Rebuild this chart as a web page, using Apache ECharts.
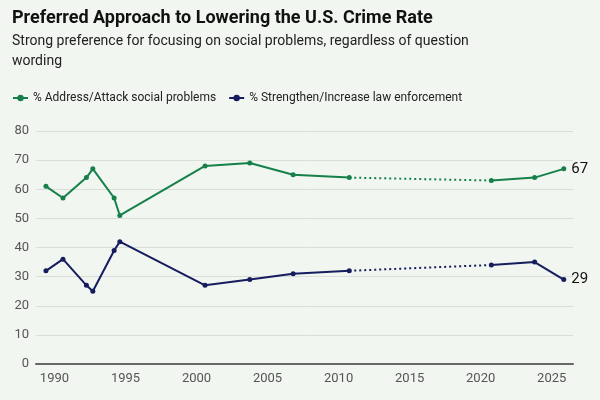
<!DOCTYPE html>
<html>
<head>
<meta charset="utf-8">
<script src="https://cdn.jsdelivr.net/npm/echarts@6/dist/echarts.min.js"></script>
<style>
html,body{margin:0;padding:0;background:#f1f6f0;}
#c{width:600px;height:400px;}
</style>
</head>
<body>
<div id="c"></div>
<script>
const surveyDates = [1989.4, 1990.6, 1992.25, 1992.7, 1994.2, 1994.6, 2000.6, 2003.75, 2006.8, 2010.75, 2020.75, 2023.8, 2025.85];
const socialProblems = [61, 57, 64, 67, 57, 51, 68, 69, 65, 64, 63, 64, 67];
const lawEnforcement = [32, 36, 27, 25, 39, 42, 27, 29, 31, 32, 34, 35, 29];
const xTickLabels = [1990, 1995, 2000, 2005, 2010, 2015, 2020, 2025];
const seriesNames = ['% Address/Attack social problems', '% Strengthen/Increase law enforcement'];
const gapStart = 9, gapEnd = 10;

const GREEN = '#16804a', NAVY = '#161d5e';

function pts(vals, from, to, labelLast) {
  const out = [];
  for (let i = from; i <= to; i++) {
    const item = { value: [surveyDates[i], vals[i]] };
    if (labelLast && i === vals.length - 1) {
      item.label = { show: true, position: 'right', distance: 5, formatter: String(vals[i]), color: '#111', fontSize: 15, fontFamily: 'Roboto' };
    }
    out.push(item);
  }
  return out;
}

function solid(name, color, vals, from, to) {
  return {
    name, type: 'line', data: pts(vals, from, to, true),
    symbol: 'circle', symbolSize: 5, showSymbol: true,
    lineStyle: { color, width: 2 }, itemStyle: { color },
    animation: false, z: 3
  };
}
function dotted(name, color, vals) {
  return {
    name, type: 'line', data: pts(vals, gapStart, gapEnd, false),
    symbol: 'none', lineStyle: { color, width: 2, type: [2, 3] },
    itemStyle: { color }, animation: false, z: 2
  };
}

const chart = echarts.init(document.getElementById('c'));
chart.setOption({
  backgroundColor: '#f1f6f0',
  textStyle: { fontFamily: 'Roboto' },
  title: {
    text: 'Preferred Approach to Lowering the U.S. Crime Rate',
    subtext: 'Strong preference for focusing on social problems, regardless of question\nwording',
    left: 7, top: 4, itemGap: 4,
    textStyle: { fontFamily: 'Roboto', fontWeight: 'bold', fontSize: 18, color: '#111' },
    subtextStyle: { fontFamily: 'Roboto', fontSize: 14, color: '#222', lineHeight: 20 }
  },
  legend: {
    left: 7, top: 87, itemWidth: 15, itemHeight: 8, itemGap: 12,
    data: seriesNames,
    textStyle: { fontSize: 12, color: '#222', fontFamily: 'Roboto' }
  },
  grid: { left: 36, right: 27, top: 131, bottom: 36, containLabel: false },
  xAxis: {
    type: 'value', min: 1988.7, max: 2026.5,
    splitLine: { show: false },
    axisTick: { show: false },
    axisLine: { lineStyle: { color: '#666', width: 2 } },
    axisLabel: { customValues: xTickLabels, color: '#555', fontSize: 13, margin: 8, formatter: v => String(v) }
  },
  yAxis: {
    type: 'value', min: 0, max: 80, interval: 10,
    axisLine: { show: false }, axisTick: { show: false },
    axisLabel: { color: '#555', fontSize: 13, margin: 7 },
    splitLine: { lineStyle: { color: '#d9ded8', width: 1 } }
  },
  series: [
    solid(seriesNames[0], GREEN, socialProblems, 0, gapStart),
    solid(seriesNames[0], GREEN, socialProblems, gapEnd, socialProblems.length - 1),
    dotted(seriesNames[0], GREEN, socialProblems),
    solid(seriesNames[1], NAVY, lawEnforcement, 0, gapStart),
    solid(seriesNames[1], NAVY, lawEnforcement, gapEnd, lawEnforcement.length - 1),
    dotted(seriesNames[1], NAVY, lawEnforcement)
  ]
});
</script>
</body>
</html>
